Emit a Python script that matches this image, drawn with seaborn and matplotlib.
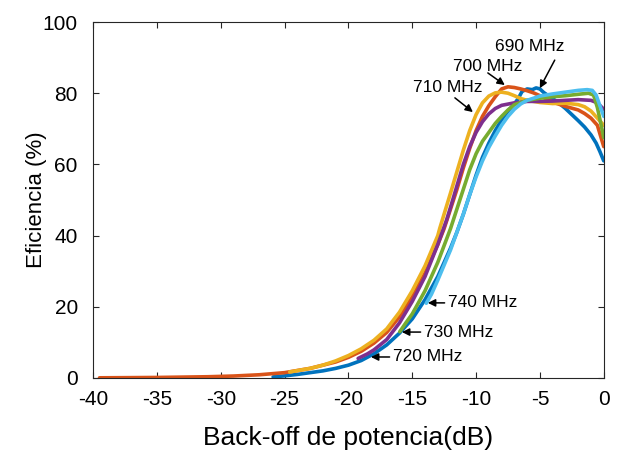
import pandas as pd
import matplotlib
matplotlib.use("Agg")
import matplotlib.pyplot as plt
import seaborn as sns

# curvas de eficiencia (back-off en dB, eficiencia en %)
x690 = [-25.9, -25, -24, -23, -22, -21, -20, -19, -18, -17, -16, -15, -14, -13, -12, -11.5, -11, -10.5, -10, -9.5,
        -9, -8.5, -8, -7.5, -7, -6.7, -6.4, -6, -5.6, -5.3, -5, -4.7, -4.3, -4, -3.5, -3, -2.5, -2, -1.5, -1, -0.6, -0.3, 0]
y690 = [0.3, 0.6, 1.0, 1.5, 2.0, 2.7, 3.6, 4.9, 6.8, 9.3, 12.6, 16.6, 22, 28.5, 36.5, 41, 46, 51.5, 57, 62,
        66, 69.5, 72.5, 75, 77, 78.5, 80.5, 81.2, 81, 81.5, 81.2, 80.2, 79.2, 78.5, 77.2, 75.7, 74, 72.3, 70.5, 68.3, 66, 63.6, 61]

x700 = [-39.5, -37, -35, -33, -31, -29, -27, -25, -23, -21, -20, -19, -18, -17, -16, -15, -14, -13, -12.5, -12,
        -11.5, -11, -10.5, -10, -9.5, -9, -8.5, -8, -7.5, -7, -6.5, -6, -5.5, -5, -4, -3, -2, -1.5, -1, -0.5, 0]
y700 = [0.05, 0.1, 0.15, 0.25, 0.35, 0.55, 0.9, 1.5, 2.7, 4.5, 5.8, 7.5, 9.8, 12.8, 17.2, 22.8, 29.5, 37.5, 42, 47.5,
        53, 59, 64.5, 69.5, 73.5, 76.5, 79, 81.2, 81.8, 81.6, 81.2, 80.7, 80.1, 79.3, 77.5, 76.3, 75.3, 74.3, 73, 71, 65]

x710 = [-24.6, -23, -22, -21, -20, -19, -18, -17, -16, -15, -14, -13, -12.85, -12, -11.5, -11, -10.5, -10, -9.5,
        -9, -8.5, -8, -7.5, -7, -6.5, -6, -5, -4, -3, -2, -1.5, -1, -0.5, 0]
y710 = [1.7, 2.7, 3.6, 4.8, 6.3, 8.2, 10.6, 13.8, 18.5, 24.5, 31.5, 40, 42, 52, 58, 64, 69.5, 74, 77.3,
        79.2, 80.1, 80.3, 80, 79.3, 78.5, 78, 77.4, 77.1, 77.2, 76.8, 76.2, 75, 73, 71]

x720 = [-19.24, -18.5, -18, -17, -16, -15, -14, -13, -12.3, -12, -11.5, -11, -10.5, -10, -9.5, -9, -8.5, -8,
        -7, -6, -5, -4, -3, -2, -1, -0.5, 0]
y720 = [5.5, 6.8, 7.9, 10.8, 15.5, 21.5, 28.5, 37.5, 44.5, 48, 54, 60, 65, 69, 72, 74.2, 75.7, 76.6,
        77.3, 77.7, 77.7, 77.8, 78, 78.2, 78, 77.3, 75.5]

x730 = [-15.98, -15.5, -15, -14, -13, -12, -11.5, -11, -10.5, -10, -9.5, -9, -8.5, -8, -7.5, -7, -6, -5, -4,
        -3, -2, -1.2, -0.8, -0.5, -0.2, 0]
y730 = [13, 15.5, 18, 24.5, 32.5, 42, 47.5, 53, 58.5, 63, 66.5, 69, 71.5, 73.5, 75.3, 76.8, 78, 78.6, 79,
        79.3, 79.7, 80, 79.5, 76, 71, 67.5]

x740 = [-13.9, -13.5, -13, -12, -11.5, -11, -10.5, -10, -9.5, -9, -8.5, -8, -7.5, -7, -6.5, -6, -5, -4, -3,
        -2, -1.3, -0.9, -0.6, -0.3, 0]
y740 = [21, 23.5, 27.5, 36, 41, 46, 51.5, 56.5, 61, 64.8, 68, 71, 73.5, 75.5, 77, 78, 79.2, 79.8, 80.3,
        80.8, 81, 80.8, 79.5, 76.5, 73.5]

frecuencias = ["690 MHz", "700 MHz", "710 MHz", "720 MHz", "730 MHz", "740 MHz"]
colores = ["#0072BD", "#D95319", "#EDB120", "#7E2F8E", "#77AC30", "#4DBEEE"]

curvas = [(x690, y690), (x700, y700), (x710, y710), (x720, y720), (x730, y730), (x740, y740)]
df = pd.concat([pd.DataFrame({"bo": xs, "ef": ys, "f": f}) for (xs, ys), f in zip(curvas, frecuencias)])

sns.set_style("ticks")
plt.rcParams["font.family"] = ["Liberation Sans", "DejaVu Sans"]
plt.rcParams["axes.unicode_minus"] = False
plt.rcParams["text.color"] = "black"
plt.rcParams["axes.labelcolor"] = "black"

fig = plt.figure(figsize=(6.25, 4.59), dpi=100)
ax = fig.add_axes([0.149, 0.1765, 0.817, 0.7755])

sns.lineplot(data=df, x="bo", y="ef", hue="f", palette=colores, hue_order=frecuencias,
             linewidth=2.6, sort=False, legend=False, ax=ax)

ax.set_xlim(-40, 0)
ax.set_ylim(0, 100)
ax.set_xticks(range(-40, 1, 5))
ax.set_yticks(range(0, 101, 20))
ax.tick_params(direction="in", top=True, right=True, labelsize=15, length=4, width=0.8,
               colors="#262626", labelcolor="black")
ax.tick_params(axis="x", pad=9)
ax.tick_params(axis="y", pad=11)
for s in ax.spines.values():
    s.set_visible(True)
    s.set_color("#262626")
    s.set_linewidth(0.8)
ax.set_xlabel("Back-off de potencia(dB)", fontsize=19, labelpad=12)
ax.set_ylabel("Eficiencia (%)", fontsize=16, labelpad=-3)

# etiquetas con flecha
notas = [
    ("690 MHz", (-5.79, 93.0), (-3.84, 89.3), (-5.01, 81.4)),
    ("700 MHz", (-9.08, 87.6), (-9.08, 85.7), (-7.75, 82.3)),
    ("710 MHz", (-12.21, 81.7), (-11.66, 78.7), (-10.25, 74.7)),
]
for txt, pos, cola, punta in notas:
    ax.text(pos[0], pos[1], txt, ha="center", va="center", fontsize=12.5)
    ax.annotate("", xy=punta, xytext=cola,
                arrowprops=dict(arrowstyle="-|>", color="black", lw=1.1, mutation_scale=11, shrinkA=0, shrinkB=0))

notas2 = [
    ("740 MHz", (-12.21, 21.1), (-13.78, 21.1)),
    ("730 MHz", (-14.09, 12.9), (-15.81, 12.9)),
    ("720 MHz", (-16.52, 5.9), (-18.24, 5.9)),
]
for txt, cola, punta in notas2:
    ax.annotate(txt, xy=punta, xytext=cola, ha="left", va="center", fontsize=12.5,
                arrowprops=dict(arrowstyle="-|>", color="black", lw=1.1, mutation_scale=11, shrinkA=0, shrinkB=0))

fig.savefig("out.png", dpi=100)
